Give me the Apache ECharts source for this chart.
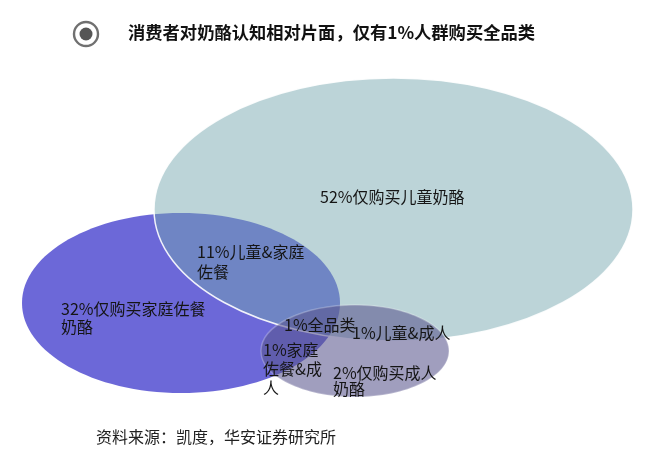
<!DOCTYPE html>
<html>
<head>
<meta charset="utf-8">
<script src="https://cdn.jsdelivr.net/npm/echarts@6/dist/echarts.min.js"></script>
<style>html,body{margin:0;padding:0;background:#fff}#c{width:660px;height:457px}</style>
</head>
<body>
<div id="c"></div>
<script>
// ---- data ----
const titleText = '消费者对奶酪认知相对片面，仅有1%人群购买全品类';
const sourceText = '资料来源：凯度，华安证券研究所';
const setNames = ['家庭佐餐奶酪', '儿童奶酪', '成人奶酪'];
const segmentNames = ['仅购买儿童奶酪', '儿童&家庭\n佐餐', '仅购买家庭佐餐\n奶酪', '全品类', '儿童&成人', '家庭\n佐餐&成\n人', '仅购买成人\n奶酪'];
const segmentShares = [52, 11, 32, 1, 1, 1, 2];

// ---- layout (pixel space of hidden axes) ----
const ellipseLayout = [
  { cx: 181, cy: 303, rx: 159, ry: 90, fill: 'rgb(108,104,216)', stroke: null },
  { cx: 393.5, cy: 209.5, rx: 239.5, ry: 131.5, fill: 'rgba(115,165,174,0.48)', stroke: 'rgba(255,255,255,0.9)' },
  { cx: 355, cy: 351, rx: 94, ry: 46, fill: 'rgba(88,84,140,0.57)', stroke: 'rgba(255,255,255,0.25)' }
];
const labelLayout = [
  { x: 320, y: 197, lh: 20 },
  { x: 197, y: 252, lh: 20 },
  { x: 61, y: 309, lh: 18 },
  { x: 284, y: 325, lh: 18 },
  { x: 352, y: 333, lh: 18 },
  { x: 263, y: 350, lh: 19 },
  { x: 333, y: 373, lh: 16 }
];

const ellipseData = setNames.map((n, i) => ({ name: n, value: [ellipseLayout[i].cx, ellipseLayout[i].cy, ellipseLayout[i].rx, ellipseLayout[i].ry, i] }));
const labelData = segmentNames.map((n, i) => ({ name: n, value: [labelLayout[i].x, labelLayout[i].y, segmentShares[i], i] }));

const chart = echarts.init(document.getElementById('c'), null, { renderer: 'canvas' });
const FONT = '"Noto Sans CJK SC", "Noto Sans", sans-serif';

chart.setOption({
  backgroundColor: '#fff',
  animation: false,
  grid: { left: 0, right: 0, top: 0, bottom: 0 },
  xAxis: { type: 'value', min: 0, max: 660, show: false },
  yAxis: { type: 'value', min: 0, max: 457, inverse: true, show: false },
  graphic: [
    { type: 'circle', shape: { cx: 86, cy: 34, r: 12 }, style: { fill: 'none', stroke: '#707070', lineWidth: 2.4 }, z: 10 },
    { type: 'circle', shape: { cx: 86, cy: 34, r: 6.5 }, style: { fill: '#555' }, z: 10 },
    { type: 'text', left: 128, top: 24, style: { text: titleText, font: 'bold 17.3px ' + FONT, fill: '#111' }, z: 10 },
    { type: 'text', left: 96, top: 429, style: { text: sourceText, font: '16px ' + FONT, fill: '#222' }, z: 10 }
  ],
  series: [
    {
      type: 'custom',
      coordinateSystem: 'cartesian2d',
      data: ellipseData,
      z: 1,
      renderItem: function (params, api) {
        const i = api.value(4);
        const c = api.coord([api.value(0), api.value(1)]);
        const s = api.size([api.value(2), api.value(3)]);
        const L = ellipseLayout[i];
        return {
          type: 'ellipse',
          shape: { cx: c[0], cy: c[1], rx: s[0], ry: s[1] },
          style: { fill: L.fill, stroke: L.stroke || 'none', lineWidth: L.stroke ? 1.5 : 0 }
        };
      }
    },
    {
      type: 'custom',
      coordinateSystem: 'cartesian2d',
      data: labelData,
      z: 5,
      renderItem: function (params, api) {
        const i = api.value(3);
        const c = api.coord([api.value(0), api.value(1)]);
        const L = labelLayout[i];
        return {
          type: 'text',
          x: c[0],
          y: c[1] - L.lh / 2,
          style: {
            text: api.value(2) + '%' + segmentNames[i],
            font: '16px ' + FONT,
            fill: '#151515',
            lineHeight: L.lh,
            textAlign: 'left',
            textVerticalAlign: 'top'
          }
        };
      }
    }
  ]
});
</script>
</body>
</html>
